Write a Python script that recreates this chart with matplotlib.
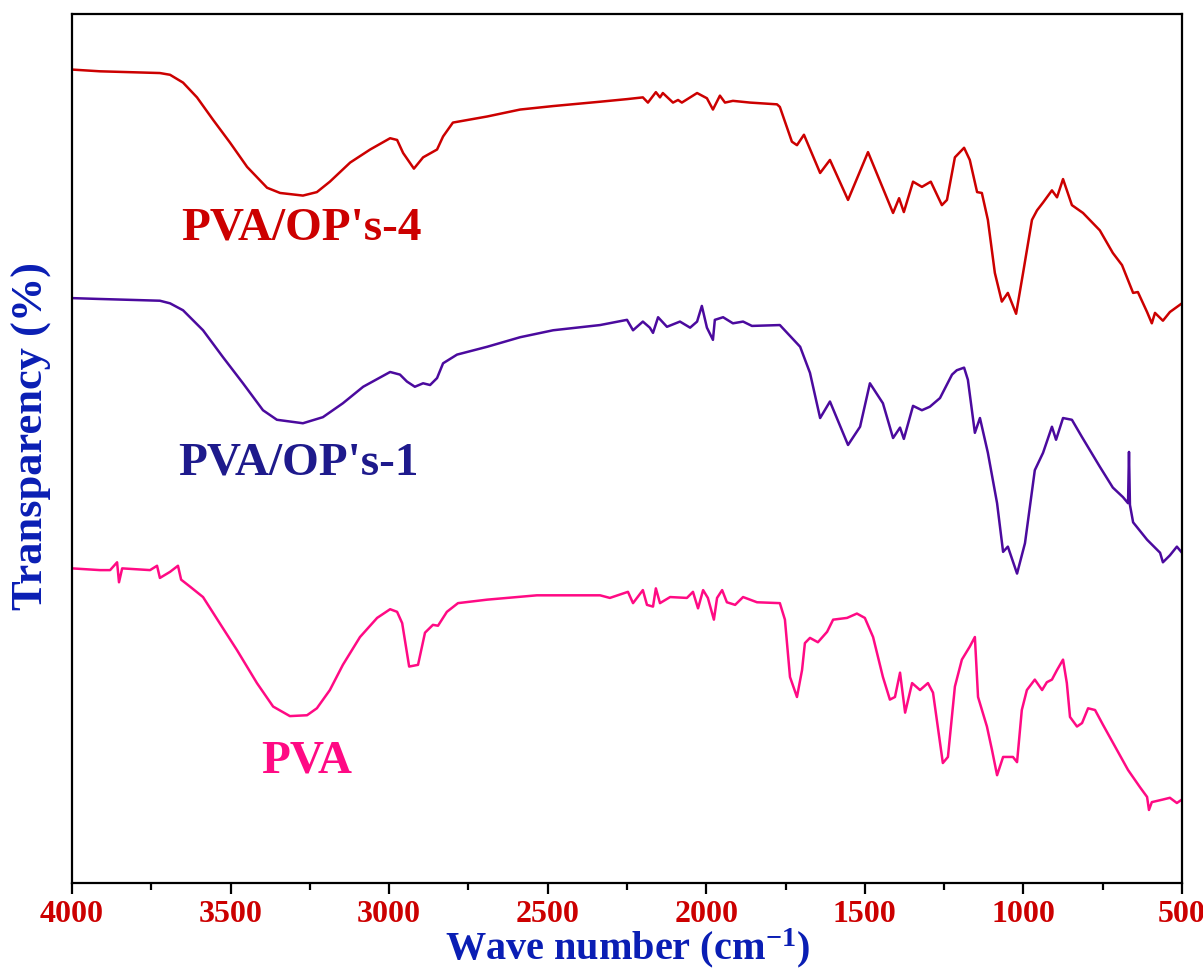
import matplotlib
matplotlib.use("Agg")
import matplotlib.pyplot as plt
from matplotlib.ticker import MultipleLocator

plt.rcParams['font.family'] = ['Liberation Serif', 'DejaVu Serif']
plt.rcParams['font.weight'] = 'bold'
plt.rcParams['mathtext.fontset'] = 'custom'
plt.rcParams['mathtext.rm'] = 'Liberation Serif:bold'
plt.rcParams['mathtext.bf'] = 'Liberation Serif:bold'
plt.rcParams['mathtext.it'] = 'Liberation Serif:bold'

# ---- data (wavenumber cm^-1, transmittance in arbitrary %-scale, stacked) ----
op4_wn = [4000, 3912, 3817, 3723, 3691, 3650, 3606, 3555, 3502, 3448,
          3385, 3344, 3272, 3228, 3187, 3123, 3060, 2997, 2975, 2956,
          2922, 2893, 2849, 2830, 2799, 2691, 2587, 2483, 2335, 2250,
          2200, 2184, 2159, 2146, 2137, 2105, 2089, 2077, 2029, 1998,
          1979, 1957, 1941, 1916, 1862, 1777, 1768, 1730, 1714, 1692,
          1641, 1610, 1553, 1490, 1411, 1392, 1377, 1348, 1320, 1292,
          1257, 1241, 1216, 1187, 1169, 1146, 1131, 1112, 1090, 1068,
          1049, 1023, 1001, 973, 957, 938, 910, 894, 875, 847,
          812, 759, 718, 689, 654, 639, 610, 595, 585, 560,
          538, 500]
op4_t = [93.6, 93.4, 93.3, 93.2, 93.0, 92.1, 90.4, 87.8, 85.2, 82.4,
         80.0, 79.4, 79.1, 79.5, 80.7, 82.9, 84.4, 85.7, 85.5, 84.0,
         82.2, 83.5, 84.4, 85.9, 87.5, 88.2, 89.0, 89.4, 89.9, 90.2,
         90.4, 89.8, 91.0, 90.4, 90.9, 89.8, 90.1, 89.8, 90.9, 90.3,
         89.0, 90.6, 89.8, 90.0, 89.8, 89.6, 89.3, 85.3, 84.9, 86.1,
         81.7, 83.2, 78.6, 84.1, 77.1, 78.8, 77.2, 80.7, 80.1, 80.7,
         78.0, 78.6, 83.5, 84.6, 83.2, 79.5, 79.4, 76.3, 70.2, 66.9,
         67.9, 65.5, 70.2, 76.3, 77.4, 78.3, 79.7, 78.9, 81.0, 78.0,
         77.1, 75.1, 72.5, 71.1, 67.9, 68.0, 65.7, 64.4, 65.6, 64.7,
         65.7, 66.7]

op1_wn = [4000, 3912, 3817, 3723, 3691, 3650, 3587, 3524, 3461, 3398,
          3354, 3272, 3209, 3146, 3082, 2997, 2966, 2944, 2919, 2893,
          2871, 2849, 2830, 2786, 2691, 2587, 2483, 2335, 2250, 2231,
          2200, 2178, 2168, 2152, 2124, 2083, 2051, 2029, 2014, 1998,
          1979, 1973, 1947, 1916, 1884, 1856, 1768, 1704, 1673, 1641,
          1610, 1553, 1515, 1484, 1443, 1411, 1389, 1377, 1348, 1320,
          1295, 1263, 1225, 1210, 1187, 1175, 1153, 1137, 1112, 1083,
          1064, 1049, 1020, 995, 964, 938, 910, 897, 875, 847,
          815, 759, 718, 686, 670, 667, 664, 654, 610, 569,
          560, 538, 516, 500]
op1_t = [67.3, 67.2, 67.1, 67.0, 66.7, 65.9, 63.6, 60.5, 57.5, 54.4,
         53.3, 52.9, 53.6, 55.2, 57.1, 58.8, 58.5, 57.7, 57.1, 57.5,
         57.3, 58.1, 59.8, 60.8, 61.7, 62.8, 63.6, 64.2, 64.8, 63.6,
         64.6, 63.9, 63.3, 65.1, 64.0, 64.6, 63.9, 64.6, 66.4, 63.9,
         62.5, 64.8, 65.1, 64.4, 64.6, 64.1, 64.2, 61.7, 58.7, 53.5,
         55.4, 50.4, 52.5, 57.5, 55.2, 51.2, 52.4, 51.1, 54.9, 54.4,
         54.8, 55.8, 58.5, 59.0, 59.3, 57.9, 51.8, 53.5, 49.5, 43.7,
         38.1, 38.7, 35.6, 39.1, 47.5, 49.5, 52.5, 51.0, 53.5, 53.3,
         51.3, 47.9, 45.5, 44.4, 43.7, 49.6, 43.5, 41.5, 39.5, 38.0,
         36.9, 37.7, 38.7, 38.0]

pva_wn = [4000, 3912, 3880, 3858, 3852, 3842, 3754, 3732, 3723, 3691,
          3666, 3656, 3628, 3587, 3524, 3480, 3417, 3366, 3313, 3259,
          3228, 3187, 3146, 3092, 3038, 2997, 2975, 2959, 2937, 2909,
          2887, 2862, 2846, 2818, 2783, 2691, 2534, 2335, 2304, 2247,
          2231, 2200, 2187, 2168, 2159, 2146, 2114, 2061, 2042, 2026,
          2010, 1995, 1976, 1966, 1950, 1935, 1909, 1884, 1840, 1768,
          1752, 1736, 1714, 1698, 1689, 1673, 1648, 1619, 1600, 1556,
          1525, 1500, 1474, 1443, 1421, 1405, 1389, 1373, 1351, 1326,
          1301, 1285, 1254, 1238, 1216, 1194, 1169, 1153, 1143, 1115,
          1099, 1083, 1064, 1033, 1020, 1005, 989, 964, 941, 926,
          910, 894, 875, 863, 853, 831, 815, 796, 774, 749,
          711, 670, 632, 610, 604, 595, 560, 538, 516, 500]
pva_t = [36.2, 36.0, 36.0, 36.9, 34.6, 36.2, 36.0, 36.5, 35.1, 35.8,
         36.5, 34.9, 34.1, 32.9, 29.3, 26.8, 23.0, 20.3, 19.2, 19.3,
         20.1, 22.2, 25.1, 28.3, 30.5, 31.5, 31.2, 29.9, 24.9, 25.1,
         28.8, 29.7, 29.6, 31.2, 32.2, 32.6, 33.1, 33.1, 32.8, 33.5,
         32.2, 33.7, 32.0, 31.8, 33.9, 32.2, 32.9, 32.8, 33.5, 31.6,
         33.7, 32.8, 30.3, 32.8, 33.7, 32.3, 32.0, 32.9, 32.3, 32.2,
         30.3, 23.7, 21.4, 24.5, 27.6, 28.2, 27.7, 28.9, 30.3, 30.5,
         31.0, 30.5, 28.3, 23.7, 21.1, 21.4, 24.2, 19.6, 23.0, 22.2,
         23.0, 21.9, 13.8, 14.5, 22.6, 25.7, 27.2, 28.3, 21.4, 18.0,
         15.3, 12.4, 14.5, 14.5, 13.9, 19.9, 22.2, 23.4, 22.2, 23.1,
         23.4, 24.5, 25.7, 23.0, 19.1, 18.0, 18.4, 20.1, 19.9, 18.2,
         15.7, 13.0, 11.0, 9.9, 8.4, 9.3, 9.6, 9.8, 9.2, 9.6]

series_labels = ["PVA/OP's-4", "PVA/OP's-1", "PVA"]
x_ticks = [4000, 3500, 3000, 2500, 2000, 1500, 1000, 500]

# ---- styles ----
line_colors = ['#CC0000', '#4B0A9E', '#FF0A84']
label_colors = ['#CC0000', '#1E1A8C', '#FF0A84']
label_pos = [(3278, 75.3), (3287, 48.3), (3259, 14.0)]

fig = plt.figure(figsize=(12.03, 9.69), dpi=100)
ax = fig.add_axes([0.0599, 0.0888, 0.9226, 0.8968])

for wn, t, c in zip([op4_wn, op1_wn, pva_wn], [op4_t, op1_t, pva_t], line_colors):
    ax.plot(wn, t, color=c, lw=1.8, solid_joinstyle='round')

for lab, (xx, yy), c in zip(series_labels, label_pos, label_colors):
    ax.text(xx, yy, lab, color=c, fontsize=34, fontweight='bold',
            ha='center', va='center')

ax.set_xlim(4000, 500)
ax.set_ylim(0, 100)
ax.set_xticks(x_ticks)
ax.xaxis.set_minor_locator(MultipleLocator(250))
ax.set_yticks([])
ax.tick_params(axis='x', which='major', direction='out', length=8, width=1.6,
               labelsize=23, labelcolor='#CC0000', pad=4)
ax.tick_params(axis='x', which='minor', direction='out', length=5, width=1.6)
for lbl in ax.get_xticklabels():
    lbl.set_fontweight('bold')
for sp in ax.spines.values():
    sp.set_linewidth(1.6)

ax.set_xlabel(r'Wave number (cm$^{-1}$)', fontsize=29, fontweight='bold',
              color='#0A1EB4', va='baseline')
ax.xaxis.set_label_coords(0.5, -0.0885)
ax.set_ylabel('Transparency (%)', fontsize=32, fontweight='bold',
              color='#0A1EB4', va='center')
ax.yaxis.set_label_coords(-0.036, 0.514)

fig.savefig('out.png', dpi=100)
